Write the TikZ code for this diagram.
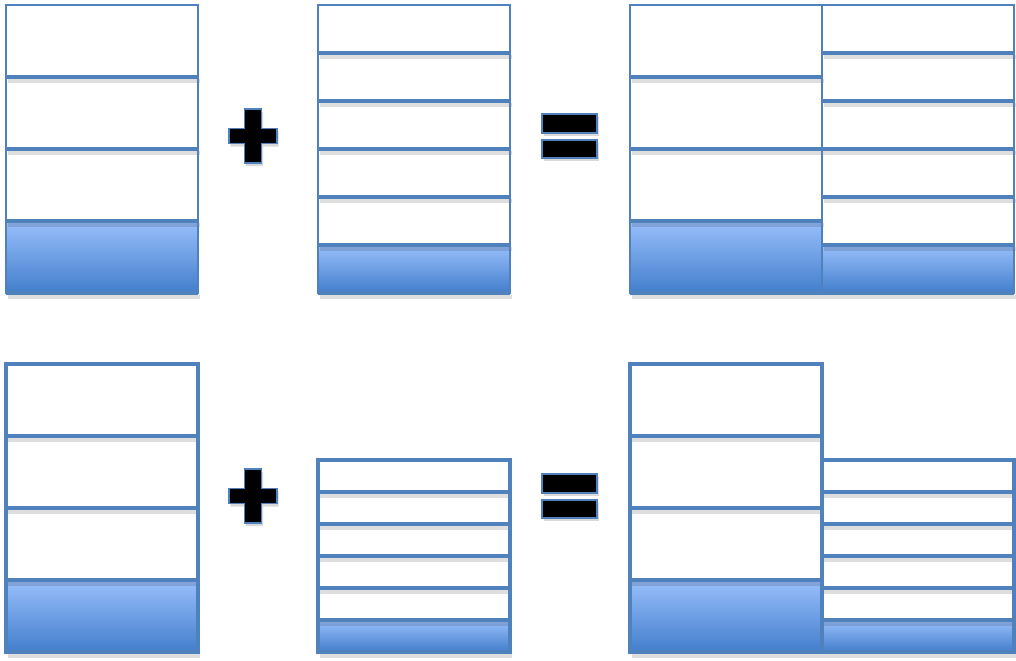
\documentclass[tikz,border=0pt]{standalone}
\usetikzlibrary{shadows}
\definecolor{rim}{RGB}{79,129,189}
\definecolor{paleblue}{RGB}{153,191,251}
\definecolor{deepblue}{RGB}{66,126,204}
\tikzset{
  x=0.025cm,y=-0.025cm,
  sep/.style={draw=rim,line width=2.9pt},
  sepshade/.style={draw=black,opacity=0.13,line width=3pt},
  frame/.style={draw=rim,line width=#1},
  frame/.default=1.4pt,
  sym/.style={fill=black,draw=rim,line width=1.2pt,
    drop shadow={opacity=0.3,shadow xshift=1.2pt,shadow yshift=-2.2pt}},
  % stacks of cells, last cell shaded
  pics/stack/.style n args={3}{code={
    \fill[top color=paleblue,bottom color=deepblue] (0,{(#1-1)*#2}) rectangle (192,{#1*#2});
    \foreach \k in {1,...,#1} \draw[sepshade] (2,\k*#2+4) -- (194,\k*#2+4);
    \foreach \k in {1,...,#1} \draw[sep] (0,\k*#2) -- (192,\k*#2);
    \draw[frame=#3] (0,0) rectangle (192,{#1*#2});
  }},
  pics/plus/.style={code={
    \draw[sym] (-8.5,-27) -- (8.5,-27) -- (8.5,-7.5) -- (24,-7.5) -- (24,7.5) -- (8.5,7.5)
      -- (8.5,27) -- (-8.5,27) -- (-8.5,7.5) -- (-24,7.5) -- (-24,-7.5) -- (-8.5,-7.5) -- cycle;
  }},
  pics/equal/.style={code={
    \draw[sym] (-27.5,-22) rectangle (27.5,-3);
    \draw[sym] (-27.5,4) rectangle (27.5,22);
  }},
}
\begin{document}
\begin{tikzpicture}
  \useasboundingbox (0,0) rectangle (1016,660);
  % top row
  \pic at (6,5) {stack={4}{72}{1.6pt}};
  \pic at (253,136) {plus};
  \pic at (318,5) {stack={6}{48}{1.6pt}};
  \pic at (569.5,136) {equal};
  \pic at (630,5) {stack={4}{72}{1.6pt}};
  \pic at (822,5) {stack={6}{48}{1.6pt}};
  % bottom row
  \pic at (6,364) {stack={4}{72}{3.2pt}};
  \pic at (253,496) {plus};
  \pic at (318,460) {stack={6}{32}{3.2pt}};
  \pic at (569.5,496) {equal};
  \pic at (630,364) {stack={4}{72}{3.2pt}};
  \pic at (822,460) {stack={6}{32}{3.2pt}};
\end{tikzpicture}
\end{document}
